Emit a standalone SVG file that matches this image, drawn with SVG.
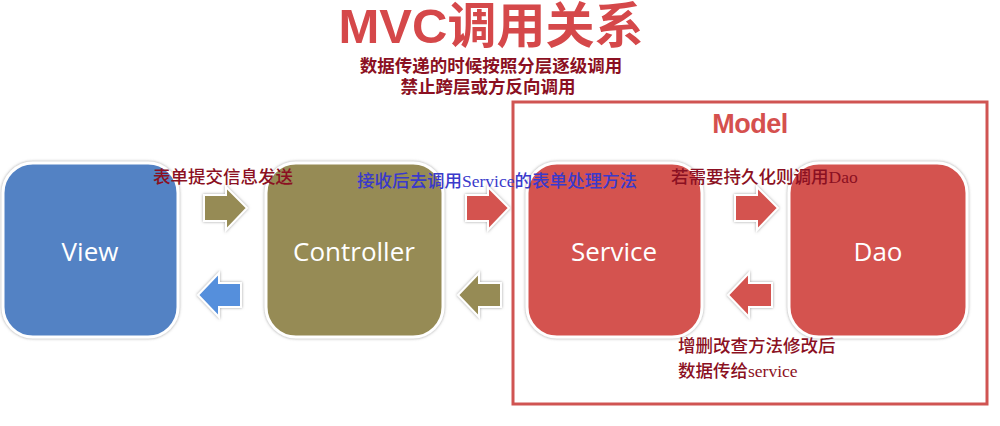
<svg xmlns="http://www.w3.org/2000/svg" width="1000" height="426" viewBox="0 0 1000 426">
<defs>
<filter id="sh" x="-10%" y="-10%" width="120%" height="120%">
<feDropShadow dx="0" dy="0" stdDeviation="1.6" flood-color="#777" flood-opacity="0.7"/>
</filter>
</defs>
<style>
.box{stroke:#fff;stroke-width:3;filter:url(#sh)}
.arr{stroke:#fff;stroke-width:2;filter:url(#sh)}
.nl{font-family:"Open Sans","Noto Sans",sans-serif;font-size:26px;fill:#fff;text-anchor:middle}
.lab{font-family:"Liberation Serif","Noto Sans CJK SC",serif;font-size:17.5px;font-weight:500}
.sub{font-weight:bold}
.dr{fill:#8b1022}
.bl{fill:#3a3acb}
</style>
<rect width="1000" height="426" fill="#fff"/>
<g id="title">
<text x="491" y="43" text-anchor="middle" font-family="Liberation Sans,'Noto Sans CJK SC',sans-serif" font-size="49" font-weight="bold" fill="#d5484a">MVC调用关系</text>
<text x="491" y="72" text-anchor="middle" class="lab sub dr">数据传递的时候按照分层逐级调用</text>
<text x="488" y="93" text-anchor="middle" class="lab sub dr">禁止跨层或方反向调用</text>
</g>
<g id="model">
<rect x="513" y="102" width="474" height="302" fill="none" stroke="#d05452" stroke-width="3"/>
<text x="750" y="133" text-anchor="middle" font-family="Liberation Sans,sans-serif" font-size="27" font-weight="bold" fill="#d5504e" letter-spacing="-0.5">Model</text>
</g>
<g id="view">
<rect class="box" x="3" y="163" width="175" height="174" rx="30" fill="#5282c4"/>
<text class="nl" x="90" y="261">View</text>
</g>
<g id="controller">
<rect class="box" x="266" y="163" width="177" height="174" rx="30" fill="#968b55"/>
<text class="nl" x="354" y="261">Controller</text>
</g>
<g id="service">
<rect class="box" x="527" y="163" width="175" height="174" rx="30" fill="#d4534f"/>
<text class="nl" x="614" y="261">Service</text>
</g>
<g id="dao">
<rect class="box" x="789" y="163" width="178" height="174" rx="30" fill="#d4534f"/>
<text class="nl" x="878" y="261">Dao</text>
</g>
<g id="connectors">
<polygon class="arr" fill="#968b55" points="204,195 226,195 226,187 247,208 226,230 226,221 204,221"/>
<polygon class="arr" fill="#d4534f" points="466,195 488,195 488,187 509,208 488,230 488,221 466,221"/>
<polygon class="arr" fill="#d4534f" points="735,195 757,195 757,187 778,208 757,230 757,221 735,221"/>
<polygon class="arr" fill="#548fdc" points="241,283 219,283 219,273 198,295 219,317 219,307 241,307"/>
<polygon class="arr" fill="#968b55" points="501,283 479,283 479,273 458,295 479,317 479,307 501,307"/>
<polygon class="arr" fill="#d4534f" points="772,283 749,283 749,273 728,295 749,317 749,307 772,307"/>
</g>
<g id="labels">
<text class="lab dr" x="153" y="183">表单提交信息发送</text>
<text class="lab bl" x="357" y="187">接收后去调用Service的表单处理方法</text>
<text class="lab dr" x="671" y="183">若需要持久化则调用Dao</text>
<text class="lab dr" x="678" y="352">增删改查方法修改后</text>
<text class="lab dr" x="678" y="377">数据传给service</text>
</g>
</svg>
